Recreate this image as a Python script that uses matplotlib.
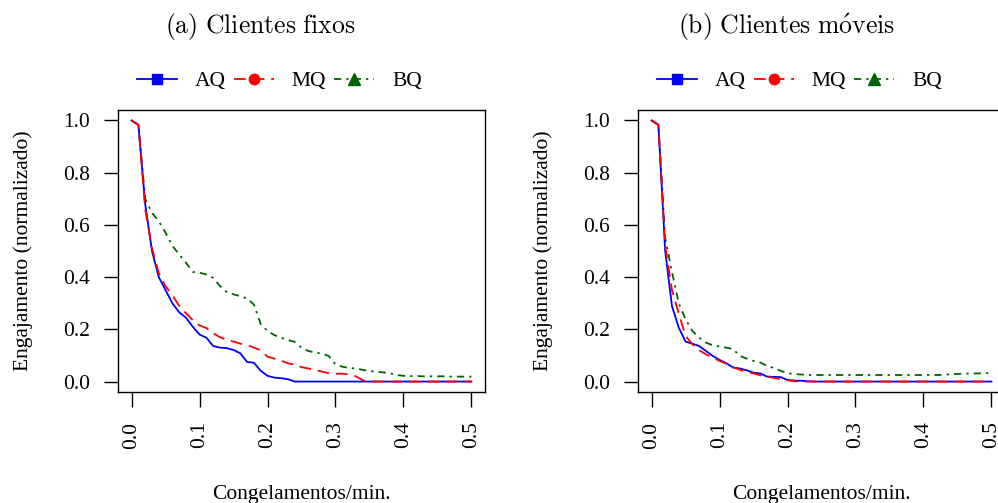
import matplotlib
matplotlib.use("Agg")
import matplotlib.pyplot as plt
from matplotlib.lines import Line2D

plt.rcParams['font.family'] = ['Liberation Serif', 'DejaVu Serif']
plt.rcParams['mathtext.fontset'] = 'cm'

# congelamentos por minuto (eixo x)
freezes = [0.00, 0.01, 0.02, 0.03, 0.04, 0.05, 0.06, 0.07, 0.08, 0.09,
           0.10, 0.11, 0.12, 0.13, 0.14, 0.15, 0.16, 0.17, 0.18, 0.19,
           0.20, 0.21, 0.22, 0.23, 0.24, 0.25, 0.26, 0.27, 0.28, 0.29,
           0.30, 0.31, 0.32, 0.33, 0.34, 0.35, 0.36, 0.37, 0.38, 0.39,
           0.40, 0.41, 0.42, 0.43, 0.44, 0.45, 0.46, 0.47, 0.48, 0.49, 0.50]

# (a) clientes fixos
fixos_aq = [1.0, 0.983, 0.68, 0.50, 0.40, 0.35, 0.30, 0.265, 0.245, 0.21,
            0.18, 0.168, 0.136, 0.130, 0.128, 0.121, 0.108, 0.075, 0.072, 0.041,
            0.022, 0.015, 0.013, 0.009] + [0.0] * 27
fixos_mq = [1.0, 0.983, 0.66, 0.51, 0.415, 0.365, 0.33, 0.29, 0.262, 0.235,
            0.215, 0.205, 0.185, 0.17, 0.16, 0.153, 0.145, 0.14, 0.13, 0.12,
            0.095, 0.088, 0.08, 0.07, 0.065, 0.055, 0.05, 0.045, 0.038, 0.032,
            0.03, 0.03, 0.027, 0.02, 0.005] + [0.0] * 16
fixos_bq = [1.0, 0.983, 0.70, 0.646, 0.614, 0.57, 0.52, 0.487, 0.455, 0.42,
            0.417, 0.41, 0.397, 0.366, 0.343, 0.334, 0.327, 0.318, 0.295, 0.22,
            0.194, 0.178, 0.168, 0.159, 0.152, 0.13, 0.117, 0.111, 0.107, 0.098,
            0.066, 0.057, 0.052, 0.05, 0.045, 0.04, 0.038, 0.035, 0.032, 0.025,
            0.022, 0.021, 0.021, 0.02, 0.02, 0.02, 0.02, 0.019, 0.019, 0.019, 0.019]

# (b) clientes moveis
moveis_aq = [1.0, 0.983, 0.50, 0.289, 0.206, 0.153, 0.145, 0.136, 0.117, 0.098,
             0.083, 0.07, 0.054, 0.05, 0.043, 0.034, 0.031, 0.019, 0.018, 0.017,
             0.006, 0.004, 0.003, 0.001] + [0.0] * 27
moveis_mq = [1.0, 0.983, 0.52, 0.35, 0.26, 0.175, 0.143, 0.12, 0.104, 0.092,
             0.079, 0.068, 0.054, 0.045, 0.037, 0.031, 0.024, 0.019, 0.014, 0.009,
             0.005, 0.001] + [0.0] * 29
moveis_bq = [1.0, 0.983, 0.55, 0.42, 0.30, 0.238, 0.194, 0.168, 0.149, 0.139,
             0.134, 0.13, 0.124, 0.098, 0.088, 0.079, 0.073, 0.06, 0.052, 0.041,
             0.032, 0.029, 0.027,
             0.025, 0.025, 0.025, 0.025, 0.025, 0.025, 0.025, 0.025, 0.025, 0.025,
             0.025, 0.025, 0.025, 0.025, 0.025, 0.025, 0.025, 0.025, 0.025, 0.025,
             0.026, 0.028, 0.029, 0.03, 0.031, 0.031, 0.032, 0.032]

series_names = ['AQ', 'MQ', 'BQ']
titles = [r'$\mathrm{(a)\ Clientes\ fixos}$', r'$\mathrm{(b)\ Clientes\ m\acute{o}veis}$']
xticks = [0.0, 0.1, 0.2, 0.3, 0.4, 0.5]
yticks = [0.0, 0.2, 0.4, 0.6, 0.8, 1.0]

cores = {'AQ': '#0000FF', 'MQ': '#FF0000', 'BQ': '#006400'}
estilos = {'AQ': '-', 'MQ': (0, (6.5, 3.8)), 'BQ': (0, (4, 2.8, 1.3, 2.8))}
marcadores = {'AQ': 's', 'MQ': 'o', 'BQ': '^'}

W, H = 998, 503
fig = plt.figure(figsize=(W / 100, H / 100), dpi=100)

paineis = [(fixos_aq, fixos_mq, fixos_bq), (moveis_aq, moveis_mq, moveis_bq)]
lefts = [118, 638]
title_x = [260, 786]
fs = 15.5

for k, dados in enumerate(paineis):
    ax = fig.add_axes([lefts[k] / W, 1 - 392 / H, 367 / W, 282 / H])
    aq, mq, bq = dados
    lw = 1.3
    ax.plot(freezes, bq, color=cores['BQ'], ls=estilos['BQ'], lw=lw)
    ax.plot(freezes, aq, color=cores['AQ'], ls=estilos['AQ'], lw=lw)
    ax.plot(freezes, mq, color=cores['MQ'], ls=estilos['MQ'], lw=lw)

    ax.set_xlim(-0.02, 0.52)
    ax.set_ylim(-0.04, 1.04)
    ax.set_xticks(xticks)
    ax.set_xticklabels(['%.1f' % v for v in xticks], rotation=90, fontsize=fs)
    ax.set_yticks(yticks)
    ax.set_yticklabels(['%.1f' % v for v in yticks], fontsize=fs)
    ax.tick_params(axis='x', direction='out', length=10.5, width=1.0, pad=10.8)
    ax.tick_params(axis='y', direction='out', length=10.0, width=1.0, pad=10.0)
    for s in ax.spines.values():
        s.set_linewidth(1.0)

    ax.set_xlabel('Congelamentos/min.', fontsize=fs)
    ax.xaxis.set_label_coords(0.5, -0.33)
    ax.xaxis.label.set_va('top')

    fig.text((lefts[k] - 95) / W, 1 - 251 / H, 'Engajamento (normalizado)',
             rotation=90, ha='center', va='center', fontsize=fs)

    fig.text(title_x[k] / W, 1 - 27 / H, titles[k], ha='center', va='center',
             fontsize=18.5)

    handles = [Line2D([], [], color=cores[n], ls=estilos[n], lw=lw,
                      marker=marcadores[n], markersize=7.5 if n != 'BQ' else 8.5)
               for n in series_names]
    fig.legend(handles, series_names, ncol=3, frameon=False, fontsize=fs,
               loc='center left', bbox_to_anchor=((lefts[k] + 19) / W, 1 - 81 / H),
               borderpad=0, borderaxespad=0, handlelength=1.86,
               handletextpad=0.84, columnspacing=0.35)

fig.savefig('out.png', dpi=100)
